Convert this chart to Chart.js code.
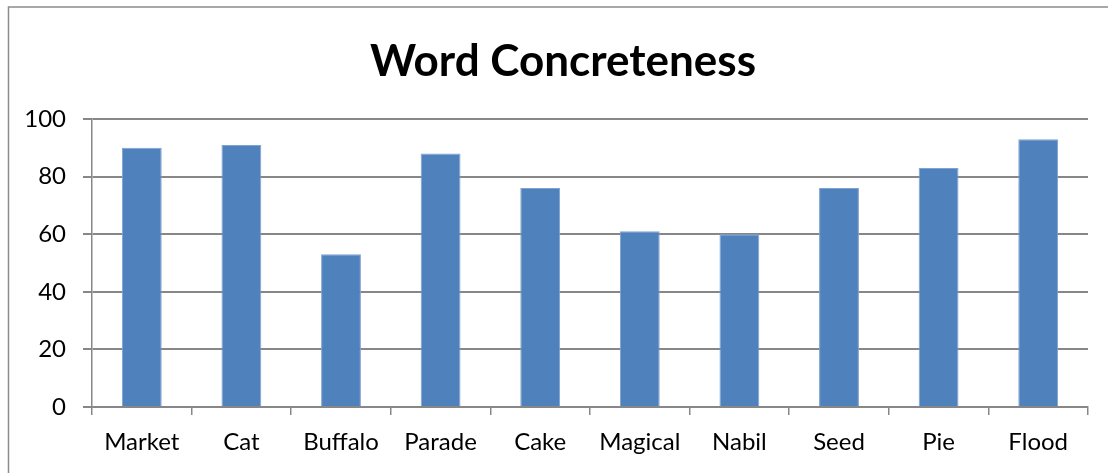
<!DOCTYPE html>
<html>
<head>
<meta charset="utf-8">
<script src="https://cdn.jsdelivr.net/npm/chart.js@4/dist/chart.umd.min.js"></script>
<style>
html,body{margin:0;padding:0;background:#fff;overflow:hidden;}
#wrap{position:relative;width:1108px;height:473px;}
</style>
</head>
<body>
<div id="wrap"><canvas id="c" width="1108" height="473"></canvas></div>
<script>
const categories = ["Market","Cat","Buffalo","Parade","Cake","Magical","Nabil","Seed","Pie","Flood"];
const concreteness = [90, 91, 53, 88, 76, 61, 60, 76, 83, 93];
const yTicks = [0, 20, 40, 60, 80, 100];
const chartTitle = "Word Concreteness";

const frame = {
  id: 'frame',
  beforeDraw(chart) {
    const ctx = chart.ctx;
    ctx.save();
    ctx.fillStyle = '#ffffff';
    ctx.fillRect(0, 0, chart.width, chart.height);
    ctx.strokeStyle = '#8c8c8c';
    ctx.lineWidth = 1.5;
    ctx.strokeRect(8.5, 7, 1300, 600);
    ctx.restore();
  }
};

// Chart title, centred on the chart frame (which runs past the right edge)
const frameTitle = {
  id: 'frameTitle',
  afterDraw(chart, args, opts) {
    const ctx = chart.ctx;
    ctx.save();
    ctx.fillStyle = '#000';
    ctx.font = 'bold 44px Lato';
    ctx.textAlign = 'center';
    ctx.textBaseline = 'alphabetic';
    ctx.fillText(opts.text, 563, 76);
    ctx.restore();
  }
};

new Chart(document.getElementById('c'), {
  type: 'bar',
  data: {
    labels: categories,
    datasets: [{
      label: 'Concreteness',
      data: concreteness,
      backgroundColor: '#4F81BD',
      borderColor: '#7fa3d0',
      borderWidth: {left: 1, right: 1, top: 1, bottom: 0},
      categoryPercentage: 1.0,
      barPercentage: 0.4
    }]
  },
  options: {
    responsive: false,
    animation: false,
    devicePixelRatio: 1,
    layout: { padding: { left: 0, right: 20, top: 119, bottom: 0 } },
    plugins: {
      legend: { display: false },
      tooltip: { enabled: false },
      title: { display: false },
      frameTitle: { text: chartTitle }
    },
    scales: {
      x: {
        offset: true,
        grid: {
          offset: true,
          drawOnChartArea: false,
          drawTicks: true,
          tickLength: 8,
          color: '#878787',
          lineWidth: 1.5
        },
        border: { display: true, color: '#878787', width: 1.5 },
        ticks: {
          color: '#000',
          font: { family: 'Lato', size: 24 },
          padding: 13,
          maxRotation: 0
        },
        afterFit(scale) { scale.height = 66; }
      },
      y: {
        min: 0,
        max: 100,
        afterBuildTicks(scale) { scale.ticks = yTicks.map(v => ({ value: v })); },
        grid: {
          color: '#878787',
          lineWidth: 2,
          drawTicks: true,
          tickLength: 9
        },
        border: { display: true, color: '#878787', width: 1.5 },
        ticks: {
          color: '#000',
          font: { family: 'Lato', size: 24 },
          padding: 17
        },
        afterFit(scale) { scale.width = 92; }
      }
    }
  },
  plugins: [frame, frameTitle]
});
</script>
</body>
</html>
